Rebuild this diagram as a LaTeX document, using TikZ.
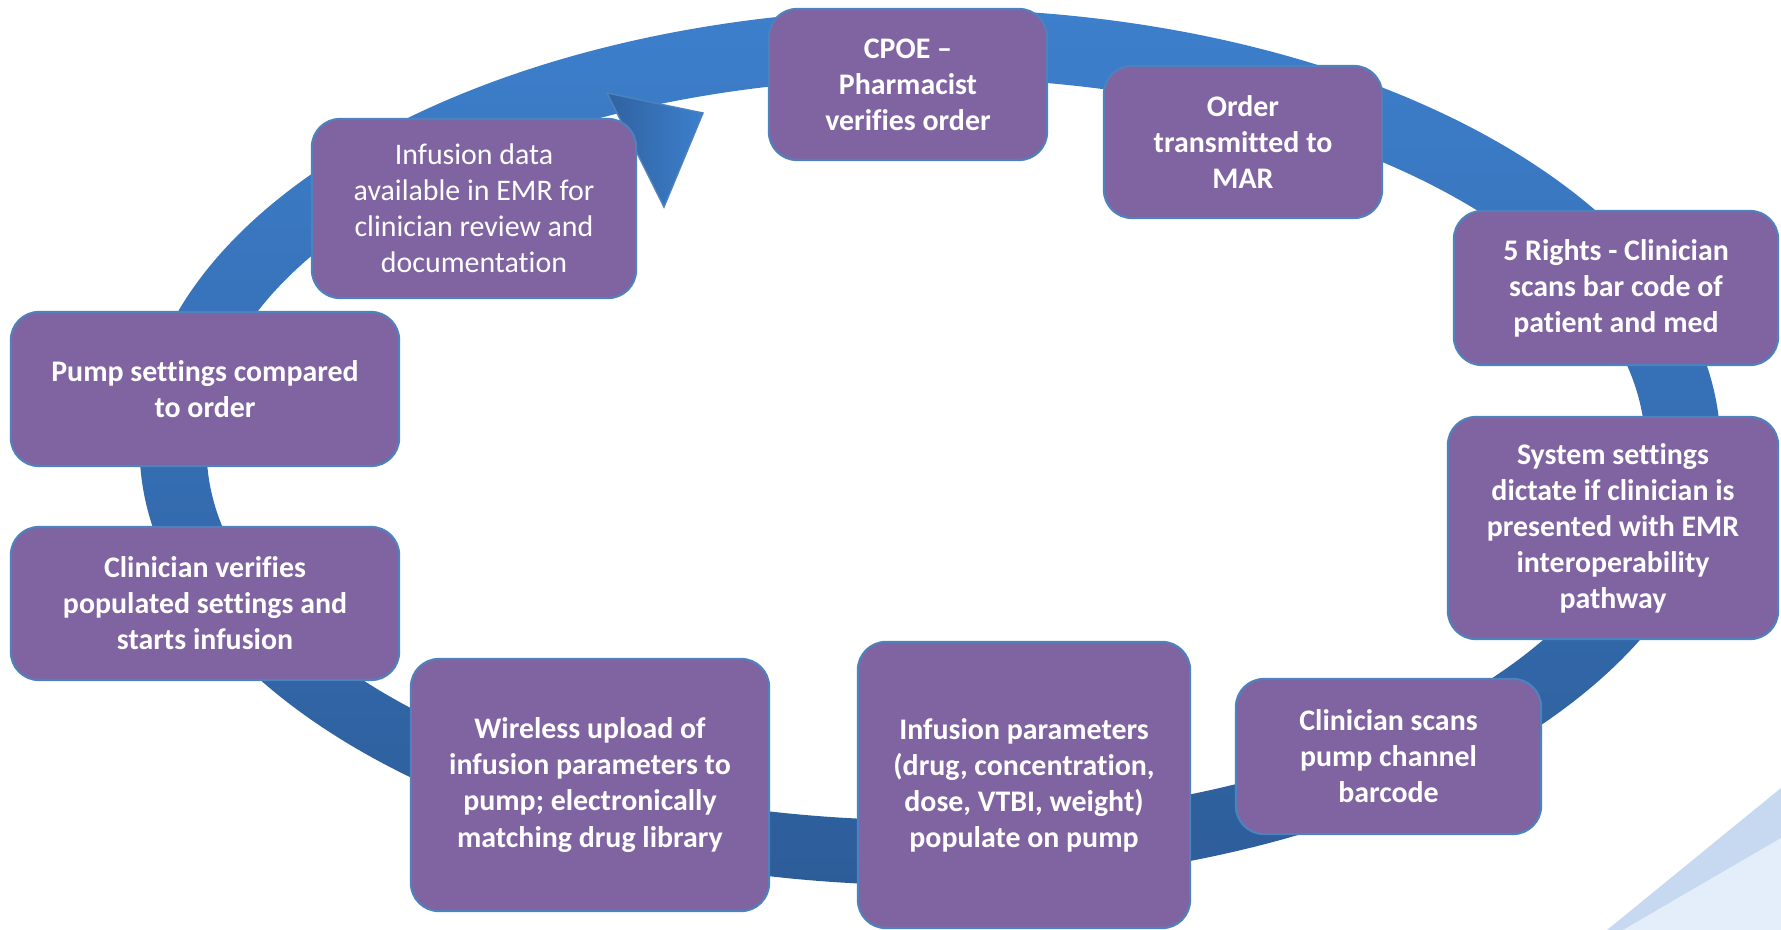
\documentclass[tikz,border=0pt]{standalone}
\usepackage{fontspec}
\setmainfont{Carlito}[Ligatures={TeX,NoCommon}, Contextuals={NoAlternate}]
\usetikzlibrary{shapes.geometric}

\definecolor{stagefill}{HTML}{8064A2}
\definecolor{stageedge}{HTML}{4F81BD}
\definecolor{ringtop}{HTML}{3D7FCC}
\definecolor{ringbottom}{HTML}{2D5D99}
\definecolor{tintdark}{HTML}{C6D9F1}
\definecolor{tintlight}{HTML}{E4EEFA}

\begin{document}
\begin{tikzpicture}[
    x=0.01cm, y=-0.01cm,
    stage/.style={rectangle, rounded corners=0.28cm, draw=stageedge, line width=0.6pt, fill=stagefill, text=white, font=\fontsize{8.5}{10.25}\selectfont\bfseries, align=center, inner sep=0pt},
    stagelight/.style={stage, font=\fontsize{8.5}{10.25}\selectfont}
]
\useasboundingbox (0,0) rectangle (1781,930);

% Background tint
\fill[tintdark] (1607,930) -- (1781,788) -- (1781,930) -- cycle;
\fill[tintlight] (1623,930) -- (1781,838) -- (1781,930) -- cycle;

% Ring and arrow head
\path[top color=ringtop, bottom color=ringbottom, even odd rule] (930,447) ellipse [x radius=7.90cm, y radius=4.38cm] (926,449) ellipse [x radius=7.19cm, y radius=3.71cm];
\shade[left color=ringbottom!85!ringtop, right color=ringtop] (607,93) -- (703,113) -- (664,207) -- cycle;
\draw[stageedge, line width=0.4pt] (607,93) -- (703,113) -- (664,207) -- cycle;

% Nodes
\node (cpoe) [stage, minimum width=2.78cm, minimum height=1.51cm] at (908,84.5) {CPOE –\\Pharmacist\\verifies order};
\node (mar) [stage, minimum width=2.78cm, minimum height=1.52cm] at (1243,142) {Order\\transmitted to\\MAR};
\node (rights) [stage, minimum width=3.24cm, minimum height=1.54cm] at (1616,288) {5 Rights - Clinician\\scans bar code of\\patient and med};
\node (system) [stage, minimum width=3.30cm, minimum height=2.22cm] at (1613,528) {System settings\\dictate if clinician is\\presented with EMR\\interoperability\\pathway};
\node (scans) [stage, minimum width=3.05cm, minimum height=1.55cm] at (1388.5,756.5) {Clinician scans\\pump channel\\barcode};
\node (params) [stage, minimum width=3.32cm, minimum height=2.86cm] at (1024,785) {Infusion parameters\\(drug, concentration,\\dose, VTBI, weight)\\populate on pump};
\node (wireless) [stage, minimum width=3.58cm, minimum height=2.52cm] at (590,785) {Wireless upload of\\infusion parameters to\\pump; electronically\\matching drug library};
\node (verifies) [stage, minimum width=3.88cm, minimum height=1.53cm] at (205,603.5) {Clinician verifies\\populated settings and\\starts infusion};
\node (pump) [stage, minimum width=3.88cm, minimum height=1.54cm] at (205,389) {Pump settings compared\\to order};
\node (emr) [stagelight, minimum width=3.24cm, minimum height=1.79cm] at (474,208.5) {Infusion data\\available in EMR for\\clinician review and\\documentation};

\end{tikzpicture}
\end{document}
